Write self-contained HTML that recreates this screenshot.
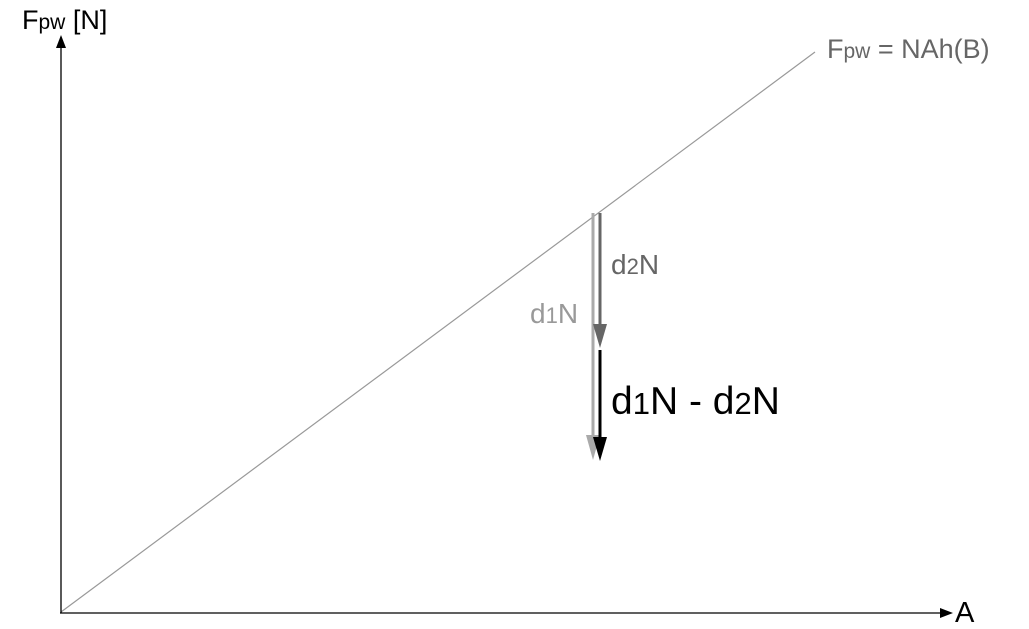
<!DOCTYPE html>
<html><head><meta charset="utf-8"><style>
html,body{margin:0;padding:0;background:#fff;}
svg{display:block;font-family:"Liberation Sans",Arial,sans-serif;}
</style></head><body>
<svg width="1029" height="629" viewBox="0 0 1029 629" xmlns="http://www.w3.org/2000/svg">
<line x1="61" y1="612" x2="815" y2="52" stroke="#999" stroke-width="1.2"/>
<line x1="61" y1="613" x2="61" y2="46" stroke="#000" stroke-width="1.3"/>
<polygon points="61,35 56,48 66,48" fill="#000"/>
<line x1="60" y1="613" x2="940" y2="613" stroke="#000" stroke-width="1.3"/>
<polygon points="953,613 940,608 940,618" fill="#000"/>
<text x="22" y="29" font-size="27" fill="#000">F<tspan font-size="21">pw</tspan> [N]</text>
<text x="955" y="622" font-size="29" fill="#000">A</text>
<text x="827" y="58" font-size="27" fill="#666">F<tspan font-size="21">pw</tspan> = NAh(B)</text>
<line x1="593" y1="213" x2="593" y2="440" stroke="#aaa" stroke-width="3"/>
<polygon points="593,460 586,435 600,435" fill="#aaa"/>
<line x1="600" y1="213" x2="600" y2="328" stroke="#666" stroke-width="3"/>
<polygon points="600,348 593,324 607,324" fill="#666"/>
<line x1="600" y1="350" x2="600" y2="440" stroke="#000" stroke-width="3"/>
<polygon points="600,461 593,437 607,437" fill="#000"/>
<text x="611" y="274" font-size="28" fill="#666">d<tspan font-size="22">2</tspan>N</text>
<text x="530" y="323" font-size="28" fill="#999">d<tspan font-size="22">1</tspan>N</text>
<text x="611" y="414" font-size="39" fill="#000">d<tspan font-size="31">1</tspan>N - d<tspan font-size="31">2</tspan>N</text>
</svg>
</body></html>
